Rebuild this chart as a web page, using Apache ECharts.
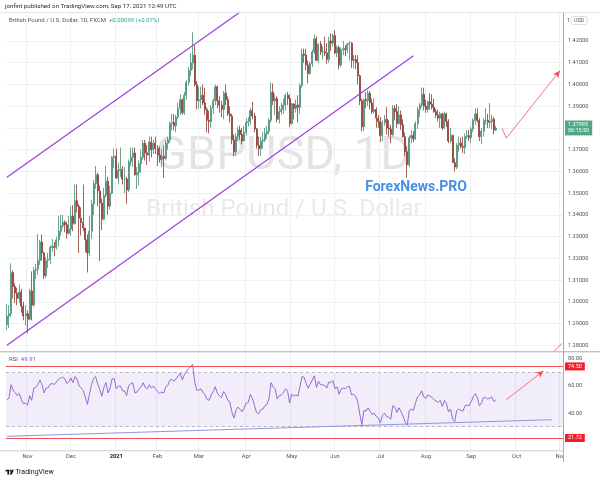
<!DOCTYPE html>
<html><head><meta charset="utf-8">
<script src="https://cdn.jsdelivr.net/npm/echarts/dist/echarts.min.js"></script>
<style>html,body{margin:0;padding:0;background:#fff}#c{width:600px;height:481px}</style>
</head><body><div id="c"></div>
<script>
// ---------- data (daily GBPUSD, FXCM) ----------
const firstDay = '2020-10-19';
const barCount = 270;              // trading days on the time axis (incl. future space)
const skipDays = ['2020-12-25', '2021-01-01'];

const opens = [1.2895,1.2935,1.2945,1.3135,1.3070,1.3040,1.3015,1.3045,1.2980,1.2935,
1.2945,1.2920,1.3050,1.2985,1.3145,1.3150,1.3190,1.3275,1.3225,1.3120,
1.3190,1.3195,1.3250,1.3255,1.3250,1.3285,1.3325,1.3350,1.3365,1.3355,
1.3315,1.3335,1.3395,1.3360,1.3465,1.3440,1.3385,1.3365,1.3340,1.3285,
1.3225,1.3325,1.3450,1.3545,1.3585,1.3510,1.3455,1.3380,1.3490,1.3555,
1.3440,1.3500,1.3665,1.3670,1.3570,1.3605,1.3610,1.3565,1.3565,1.3515,
1.3645,1.3665,1.3685,1.3585,1.3595,1.3635,1.3665,1.3730,1.3685,1.3675,
1.3735,1.3700,1.3730,1.3705,1.3675,1.3655,1.3670,1.3660,1.3730,1.3745,
1.3820,1.3825,1.3810,1.3850,1.3890,1.3930,1.3870,1.3950,1.4010,1.4065,
1.4100,1.4135,1.4000,1.3925,1.3930,1.3950,1.3915,1.3885,1.3835,1.3830,
1.3890,1.3925,1.3990,1.3925,1.3905,1.3885,1.3960,1.3930,1.3865,1.3855,
1.3745,1.3690,1.3760,1.3790,1.3770,1.3740,1.3780,1.3825,1.3830,1.3880,
1.3855,1.3795,1.3720,1.3705,1.3740,1.3745,1.3775,1.3785,1.3835,1.3965,
1.3925,1.3935,1.3840,1.3875,1.3885,1.3905,1.3950,1.3935,1.3820,1.3910,
1.3890,1.3905,1.3895,1.3995,1.4140,1.4135,1.4090,1.4050,1.4095,1.4150,
1.4210,1.4110,1.4185,1.4150,1.4150,1.4145,1.4115,1.4200,1.4190,1.4225,
1.4145,1.4170,1.4090,1.4160,1.4165,1.4160,1.4185,1.4190,1.4110,1.4115,
1.4100,1.4040,1.3925,1.3805,1.3930,1.3925,1.3960,1.3915,1.3875,1.3885,
1.3845,1.3830,1.3765,1.3825,1.3840,1.3800,1.3795,1.3770,1.3890,1.3875,
1.3820,1.3860,1.3815,1.3760,1.3690,1.3630,1.3755,1.3765,1.3750,1.3820,
1.3885,1.3905,1.3955,1.3900,1.3885,1.3920,1.3910,1.3895,1.3875,1.3860,
1.3845,1.3865,1.3800,1.3865,1.3830,1.3740,1.3765,1.3640,1.3620,1.3720,
1.3730,1.3715,1.3710,1.3760,1.3765,1.3755,1.3795,1.3835,1.3865,1.3835,
1.3760,1.3785,1.3835,1.3835,1.3825,1.3830,1.3840,1.3790];

const closes = [1.2935,1.2945,1.3135,1.3070,1.3040,1.3015,1.3045,1.2980,1.2935,1.2945,
1.2920,1.3050,1.2985,1.3145,1.3150,1.3190,1.3275,1.3225,1.3120,1.3190,
1.3195,1.3250,1.3255,1.3250,1.3285,1.3325,1.3350,1.3365,1.3355,1.3315,
1.3335,1.3395,1.3360,1.3465,1.3440,1.3385,1.3365,1.3340,1.3285,1.3225,
1.3325,1.3450,1.3545,1.3585,1.3510,1.3455,1.3380,1.3490,1.3555,1.3440,
1.3500,1.3665,1.3670,1.3570,1.3605,1.3610,1.3565,1.3565,1.3515,1.3645,
1.3665,1.3685,1.3585,1.3595,1.3635,1.3665,1.3730,1.3685,1.3675,1.3735,
1.3700,1.3730,1.3705,1.3675,1.3655,1.3670,1.3660,1.3730,1.3745,1.3820,
1.3825,1.3810,1.3850,1.3890,1.3930,1.3870,1.3950,1.4010,1.4065,1.4100,
1.4135,1.4000,1.3925,1.3930,1.3950,1.3915,1.3885,1.3835,1.3830,1.3890,
1.3925,1.3990,1.3925,1.3905,1.3885,1.3960,1.3930,1.3865,1.3855,1.3745,
1.3690,1.3760,1.3790,1.3770,1.3740,1.3780,1.3825,1.3830,1.3880,1.3855,
1.3795,1.3720,1.3705,1.3740,1.3745,1.3775,1.3785,1.3835,1.3965,1.3925,
1.3935,1.3840,1.3875,1.3885,1.3905,1.3950,1.3935,1.3820,1.3910,1.3890,
1.3905,1.3895,1.3995,1.4140,1.4135,1.4090,1.4050,1.4095,1.4150,1.4210,
1.4110,1.4185,1.4150,1.4150,1.4145,1.4115,1.4200,1.4190,1.4225,1.4145,
1.4170,1.4090,1.4160,1.4165,1.4160,1.4185,1.4190,1.4110,1.4115,1.4100,
1.4040,1.3925,1.3805,1.3930,1.3925,1.3960,1.3915,1.3875,1.3885,1.3845,
1.3830,1.3765,1.3825,1.3840,1.3800,1.3795,1.3770,1.3890,1.3875,1.3820,
1.3860,1.3815,1.3760,1.3690,1.3630,1.3755,1.3765,1.3750,1.3820,1.3885,
1.3905,1.3955,1.3900,1.3885,1.3920,1.3910,1.3895,1.3875,1.3860,1.3845,
1.3865,1.3800,1.3865,1.3830,1.3740,1.3765,1.3640,1.3620,1.3720,1.3730,
1.3715,1.3710,1.3760,1.3765,1.3755,1.3795,1.3835,1.3865,1.3835,1.3760,
1.3785,1.3835,1.3835,1.3825,1.3830,1.3840,1.3790,1.37995];

const lows = [1.2870,1.2880,1.2930,1.3015,1.2995,1.2985,1.2995,1.2950,1.2915,1.2890,
1.2855,1.2915,1.2915,1.2975,1.3105,1.3125,1.3170,1.3190,1.3105,1.3110,
1.3155,1.3175,1.3230,1.3210,1.3240,1.3255,1.3305,1.3340,1.3320,1.3290,
1.3310,1.3305,1.3325,1.3355,1.3410,1.3225,1.3305,1.3325,1.3230,1.3135,
1.3210,1.3290,1.3400,1.3520,1.3440,1.3188,1.3330,1.3375,1.3480,1.3400,
1.3425,1.3495,1.3615,1.3565,1.3540,1.3575,1.3540,1.3500,1.3450,1.3505,
1.3625,1.3620,1.3580,1.3520,1.3535,1.3595,1.3655,1.3650,1.3630,1.3645,
1.3665,1.3680,1.3680,1.3625,1.3640,1.3620,1.3570,1.3650,1.3700,1.3730,
1.3790,1.3790,1.3780,1.3840,1.3860,1.3860,1.3860,1.3930,1.3995,1.4040,
1.4070,1.3990,1.3885,1.3890,1.3890,1.3905,1.3860,1.3780,1.3775,1.3800,
1.3865,1.3905,1.3890,1.3870,1.3850,1.3840,1.3905,1.3855,1.3825,1.3725,
1.3670,1.3670,1.3740,1.3745,1.3725,1.3740,1.3765,1.3805,1.3815,1.3840,
1.3780,1.3705,1.3670,1.3670,1.3705,1.3735,1.3750,1.3770,1.3825,1.3905,
1.3860,1.3825,1.3820,1.3860,1.3865,1.3880,1.3905,1.3805,1.3815,1.3840,
1.3870,1.3825,1.3865,1.3985,1.4100,1.4065,1.4005,1.4045,1.4080,1.4140,
1.4110,1.4100,1.4135,1.4115,1.4130,1.4095,1.4100,1.4155,1.4175,1.4140,
1.4125,1.4070,1.4080,1.4135,1.4130,1.4145,1.4110,1.4075,1.4075,1.4070,
1.4000,1.3905,1.3785,1.3785,1.3890,1.3900,1.3885,1.3865,1.3865,1.3800,
1.3800,1.3735,1.3740,1.3810,1.3770,1.3760,1.3730,1.3760,1.3835,1.3800,
1.3815,1.3790,1.3755,1.3670,1.3572,1.3620,1.3730,1.3735,1.3745,1.3795,
1.3850,1.3895,1.3880,1.3870,1.3870,1.3885,1.3885,1.3870,1.3845,1.3830,
1.3800,1.3790,1.3795,1.3805,1.3730,1.3730,1.3640,1.3600,1.3610,1.3690,
1.3705,1.3685,1.3680,1.3750,1.3740,1.3730,1.3780,1.3815,1.3825,1.3740,
1.3725,1.3760,1.3815,1.3800,1.3800,1.3795,1.3770,1.3785];

const highs = [1.2990,1.2985,1.3177,1.3145,1.3085,1.3065,1.3080,1.3060,1.3000,1.2985,
1.2960,1.3060,1.3140,1.3160,1.3175,1.3313,1.3285,1.3310,1.3230,1.3205,
1.3225,1.3260,1.3290,1.3275,1.3300,1.3395,1.3400,1.3400,1.3375,1.3370,
1.3395,1.3440,1.3445,1.3540,1.3540,1.3450,1.3435,1.3540,1.3340,1.3310,
1.3395,1.3470,1.3560,1.3625,1.3595,1.3535,1.3475,1.3525,1.3625,1.3575,
1.3535,1.3670,1.3705,1.3705,1.3640,1.3710,1.3625,1.3620,1.3575,1.3655,
1.3710,1.3710,1.3710,1.3620,1.3650,1.3700,1.3745,1.3745,1.3720,1.3760,
1.3760,1.3745,1.3760,1.3720,1.3715,1.3705,1.3720,1.3745,1.3760,1.3830,
1.3865,1.3865,1.3860,1.3915,1.3955,1.3935,1.3965,1.4020,1.4080,1.4145,
1.4240,1.4180,1.4015,1.3990,1.3990,1.4000,1.3985,1.3895,1.3880,1.3905,
1.3935,1.4000,1.3995,1.3945,1.3925,1.3970,1.4000,1.3945,1.3900,1.3865,
1.3770,1.3775,1.3805,1.3810,1.3800,1.3810,1.3845,1.3850,1.3890,1.3920,
1.3870,1.3800,1.3760,1.3760,1.3780,1.3800,1.3810,1.3845,1.4010,1.4005,
1.3955,1.3945,1.3900,1.3915,1.3935,1.3960,1.3965,1.3955,1.3915,1.3915,
1.3930,1.3950,1.4005,1.4165,1.4165,1.4165,1.4110,1.4105,1.4160,1.4230,
1.4220,1.4190,1.4200,1.4175,1.4220,1.4190,1.4220,1.4235,1.4235,1.4250,
1.4180,1.4180,1.4170,1.4200,1.4180,1.4190,1.4200,1.4195,1.4135,1.4135,
1.4135,1.4045,1.3935,1.3935,1.3965,1.3975,1.3970,1.3935,1.3935,1.3895,
1.3860,1.3850,1.3835,1.3860,1.3895,1.3835,1.3815,1.3905,1.3905,1.3910,
1.3900,1.3880,1.3840,1.3780,1.3715,1.3765,1.3790,1.3785,1.3830,1.3895,
1.3915,1.3985,1.3985,1.3930,1.3925,1.3960,1.3955,1.3935,1.3890,1.3885,
1.3875,1.3870,1.3875,1.3870,1.3840,1.3800,1.3770,1.3660,1.3730,1.3760,
1.3755,1.3760,1.3775,1.3790,1.3790,1.3805,1.3845,1.3890,1.3890,1.3845,
1.3800,1.3845,1.3890,1.3865,1.3915,1.3860,1.3850,1.3810];

const rsi = [49.9,51,61,57,55,53,54.5,50,47,47.5,
46,53,49.5,58.5,59,61,64.5,61,55,58.5,
58.8,61.5,61.8,61.2,63,65,66,66.5,65.5,62,
63,66,62.5,67,65,60,58.5,56.5,52,46.5,
54,61,65.5,67,61.5,57.5,52.5,59,62.5,55,
58.5,65.5,65.5,58,60,60,56.5,56.5,53,60.5,
61.5,62.5,55,55.5,58,59.5,62.5,59,58,61,
58.5,60,58,56,54.5,55.5,55,59.5,60.5,64.5,
64.8,63.5,65.5,67.5,69.5,64.5,68.5,71,73,74.5,
76,63,57,57,58,55.5,53.5,50,49.5,53.5,
56,59.5,54.5,53,51.5,56,54,49.5,48.5,41,
36.5,42,44.5,43,41,44,47.5,48,54,51,
45.5,40.5,39.5,42.5,43,45.5,46.5,50.5,62.5,59.5,
58,50.5,53,53.5,55,58,56.5,47.5,54,52.5,
53.5,52.5,59.5,67,66.5,62,58.5,61.5,64.5,67.5,
59,63.5,61,61,60.5,58.5,63,62.5,64,58,
59.5,54,58,58.5,58,59.5,59.8,53.5,54,52.5,
48.5,39.5,31.5,42,41.5,44,41.5,39,40,37.5,
36.5,33,38.5,40,37.5,37,35.5,45.5,44.5,40.5,
44,41,37.5,33.5,31,42,43,42,47.5,52,
53.5,56.5,52,51,53.5,52.5,51.5,50,49,48,
49.5,45,49.5,47,41,43,35.5,34,42,43,
42,41.5,45.5,46,45.5,48.5,52,54.5,51.5,45.5,
47.5,51.5,51.5,50.5,51,52,48.5,49.91];

const priceTicks = [1.28,1.29,1.30,1.31,1.32,1.33,1.34,1.35,1.36,1.37,1.38,1.39,1.40,1.41,1.42];
const rsiTicks = [40, 60, 80];
const lastPrice = 1.37995;
const rsiLevels = {upper: 70, lower: 30, redHigh: 74.50, redLow: 21.72};

// drawings: [bar index, value]
const upperChannel = [[0, 1.3573], [113, 1.4333]];
const lowerChannel = [[0, 1.2800], [197, 1.4132]];
const priceArrow = [[240, 1.3798], [242, 1.3753], [268, 1.4063]];
const priceStub = [[265, 1.27706], [269, 1.2809]];
const rsiTrend = [[0, 22.97], [264, 35.2]];
const rsiArrow = [[242, 49.9], [260, 71.2]];

// ---------- calendar ----------
function buildDates() {
  const out = [];
  const d = new Date(firstDay + 'T00:00:00Z');
  while (out.length < barCount) {
    const wd = d.getUTCDay();
    const s = d.toISOString().slice(0, 10);
    if (wd !== 0 && wd !== 6 && skipDays.indexOf(s) < 0) out.push(s);
    d.setUTCDate(d.getUTCDate() + 1);
  }
  return out;
}
const dates = buildDates();
const monthNames = ['Jan','Feb','Mar','Apr','May','Jun','Jul','Aug','Sep','Oct','Nov','Dec'];
function isMonthStart(i) { return i > 0 && dates[i].slice(5, 7) !== dates[i - 1].slice(5, 7); }

const candleData = opens.map((o, i) => [o, closes[i], lows[i], highs[i]]);
const C = (p) => [dates[p[0]], p[1]];

const FONT = 'Roboto';
const gridLine = '#eef0f3';
const purple = '#9c3fe3';
const red = '#f0505a';

function seg(a, b, style, endArrow) {
  return [
    { coord: C(a), symbol: 'none', lineStyle: style, label: { show: false } },
    { coord: C(b), symbol: endArrow ? 'arrow' : 'none', symbolSize: [5, 7] }
  ];
}

const chart = echarts.init(document.getElementById('c'), null, { renderer: 'canvas', width: 600, height: 481 });

const xCommon = {
  type: 'category', data: dates, boundaryGap: true,
  axisTick: { show: false },
  splitLine: { show: true, interval: (i) => isMonthStart(i), lineStyle: { color: gridLine, width: 1 } }
};

const option = {
  animation: false,
  backgroundColor: '#ffffff',
  textStyle: { fontFamily: FONT },
  grid: [
    { left: 5.9, right: 37, top: 12, height: 339.7 },
    { left: 5.9, right: 37, top: 352, height: 98.5 }
  ],
  xAxis: [
    Object.assign({}, xCommon, { gridIndex: 0, axisLine: { show: false }, axisLabel: { show: false } }),
    Object.assign({}, xCommon, {
      gridIndex: 1,
      axisLine: { show: false },
      axisLabel: {
        show: true, interval: (i) => isMonthStart(i) && i < 268,
        hideOverlap: false,
        margin: 3, fontSize: 5.8, color: '#50535e', fontFamily: FONT,
        formatter: (v) => {
          const m = +v.slice(5, 7);
          return m === 1 ? '{y|' + v.slice(0, 4) + '}' : monthNames[m - 1];
        },
        rich: { y: { fontWeight: 'bold', color: '#131722', fontSize: 5.8, fontFamily: FONT } }
      }
    })
  ],
  yAxis: [
    {
      gridIndex: 0, type: 'value', position: 'right', min: 1.27706, max: 1.43334,
      axisLine: { show: false },
      axisTick: { show: false, customValues: priceTicks },
      axisLabel: { show: true, customValues: priceTicks, margin: 5, fontSize: 5.6, color: '#50535e', fontFamily: FONT,
        formatter: (v) => v.toFixed(5) },
      splitLine: { show: true, lineStyle: { color: gridLine, width: 1 } }
    },
    {
      gridIndex: 1, type: 'value', position: 'right', min: 12.48, max: 85.14,
      axisLine: { show: false },
      axisTick: { show: false, customValues: rsiTicks },
      axisLabel: { show: true, customValues: rsiTicks, margin: 5, fontSize: 5.6, color: '#50535e', fontFamily: FONT,
        formatter: (v) => v.toFixed(2) },
      splitLine: { show: false }
    }
  ],
  series: [
    {
      type: 'candlestick', xAxisIndex: 0, yAxisIndex: 0, data: candleData, barWidth: 1.5,
      itemStyle: { color: '#58a98a', color0: '#b04a40', borderColor: '#4a8f75', borderColor0: '#8a3b32', borderWidth: 0.8 },
      z: 3,
      markLine: {
        silent: true, animation: false, symbol: ['none', 'none'],
        data: [
          seg(upperChannel[0], upperChannel[1], { color: purple, width: 1.2, type: 'solid' }, false),
          seg(lowerChannel[0], lowerChannel[1], { color: purple, width: 1.2, type: 'solid' }, false),
          seg(priceArrow[0], priceArrow[1], { color: red, width: 0.8, type: 'solid' }, false),
          seg(priceArrow[1], priceArrow[2], { color: red, width: 0.8, type: 'solid' }, true),
          seg(priceStub[0], priceStub[1], { color: red, width: 0.8, type: 'solid' }, false)
        ]
      }
    },
    {
      // last price tag on the price scale
      type: 'line', xAxisIndex: 0, yAxisIndex: 0, data: [], symbol: 'none',
      markLine: {
        silent: true, animation: false, symbol: ['none', 'none'],
        data: [
          { yAxis: lastPrice, lineStyle: { color: 'rgba(79,168,131,0)', width: 0.5 },
            label: { show: true, position: 'end', distance: 2, formatter: '1.37995\n06:15:50',
              color: '#ffffff', backgroundColor: '#4fa883', padding: [1.5, 3, 1, 3], fontSize: 5.5, lineHeight: 6.2,
              fontFamily: FONT } }
        ]
      }
    },
    {
      type: 'line', xAxisIndex: 1, yAxisIndex: 1, data: rsi, showSymbol: false, symbol: 'none',
      lineStyle: { color: '#8a5cc9', width: 0.9 }, z: 3,
      markArea: { silent: true, itemStyle: { color: 'rgba(126,87,194,0.10)' },
        data: [[{ yAxis: rsiLevels.lower }, { yAxis: rsiLevels.upper }]] },
      markLine: {
        silent: true, animation: false, symbol: ['none', 'none'],
        data: [
          { yAxis: rsiLevels.upper, lineStyle: { color: '#a7a2bd', width: 0.8, type: [3, 3] }, label: { show: false } },
          { yAxis: rsiLevels.lower, lineStyle: { color: '#a7a2bd', width: 0.8, type: [3, 3] }, label: { show: false } },
          { yAxis: rsiLevels.redHigh, lineStyle: { color: red, width: 1, type: 'solid' },
            label: { show: true, position: 'end', distance: 2, formatter: '74.50', color: '#fff', backgroundColor: '#f21d2b',
              padding: [1.2, 3, 0.8, 3], fontSize: 5.5, fontFamily: FONT } },
          { yAxis: rsiLevels.redLow, lineStyle: { color: red, width: 1, type: 'solid' },
            label: { show: true, position: 'end', distance: 2, formatter: '21.72', color: '#fff', backgroundColor: '#f21d2b',
              padding: [1.2, 3, 0.8, 3], fontSize: 5.5, fontFamily: FONT } },
          seg(rsiTrend[0], rsiTrend[1], { color: '#8d97dc', width: 1, type: 'solid' }, false),
          seg(rsiArrow[0], rsiArrow[1], { color: red, width: 0.8, type: 'solid' }, true)
        ]
      }
    }
  ],
  graphic: [
    // watermark
    { type: 'text', z: 0, x: 283, y: 157, silent: true,
      style: { text: 'GBPUSD, 1D', fill: 'rgba(0,0,0,0.11)', font: '47px ' + FONT, textAlign: 'center', textVerticalAlign: 'middle' } },
    { type: 'text', z: 0, x: 284, y: 210, silent: true,
      style: { text: 'British Pound / U.S. Dollar', fill: 'rgba(0,0,0,0.09)', font: '24px ' + FONT, textAlign: 'center', textVerticalAlign: 'middle' } },
    { type: 'text', z: 10, x: 416, y: 187, silent: true,
      style: { text: 'ForexNews.PRO', fill: '#4a8fe4', font: 'bold 14px ' + FONT, textAlign: 'center', textVerticalAlign: 'middle' } },
    // header
    { type: 'text', z: 10, x: 5, y: 6.5,
      style: { text: 'jonfint published on TradingView.com, Sep 17, 2021 12:49 UTC', fill: '#2a2e39', font: '6.2px ' + FONT, textVerticalAlign: 'middle' } },
    { type: 'text', z: 10, x: 9, y: 20.5,
      style: { text: '{a|British Pound / U.S. Dollar, 1D, FXCM}  {b|+0.00099 (+0.07%)}', font: '6px ' + FONT, textVerticalAlign: 'middle',
        rich: { a: { fill: '#50535e', fontSize: 6, fontFamily: FONT }, b: { fill: '#26a69a', fontSize: 6, fontFamily: FONT } } } },
    { type: 'text', z: 10, x: 9, y: 359.5,
      style: { text: '{a|RSI}  {b|49.91}', font: '6px ' + FONT, textVerticalAlign: 'middle',
        rich: { a: { fill: '#50535e', fontSize: 6, fontFamily: FONT }, b: { fill: '#7e57c2', fontSize: 6, fontFamily: FONT } } } },
    // USD box
    { type: 'text', z: 10, x: 567, y: 20.5,
      style: { text: '1', fill: '#50535e', font: '5.6px ' + FONT, textVerticalAlign: 'middle' } },
    { type: 'rect', z: 10, shape: { x: 571, y: 16.5, width: 16, height: 8, r: 1.5 }, style: { fill: '#fff', stroke: '#c5c8d0', lineWidth: 0.6 } },
    { type: 'text', z: 11, x: 579, y: 20.7,
      style: { text: 'USD', fill: '#50535e', font: '5.4px ' + FONT, textAlign: 'center', textVerticalAlign: 'middle' } },
    // frame lines
    { type: 'line', z: 9, shape: { x1: 0, y1: 12.5, x2: 600, y2: 12.5 }, style: { stroke: '#e3e5ea', lineWidth: 1 } },
    { type: 'line', z: 9, shape: { x1: 0, y1: 351.8, x2: 600, y2: 351.8 }, style: { stroke: '#a9acb5', lineWidth: 1 } },
    { type: 'line', z: 9, shape: { x1: 0, y1: 450.8, x2: 563, y2: 450.8 }, style: { stroke: '#c9ccd3', lineWidth: 1 } },
    { type: 'line', z: 9, shape: { x1: 563.5, y1: 12.5, x2: 563.5, y2: 462 }, style: { stroke: '#a9acb5', lineWidth: 1 } },
    { type: 'text', z: 10, x: 555.5, y: 456.5,
      style: { text: 'No', fill: '#50535e', font: '5.8px ' + FONT, textVerticalAlign: 'middle' } },
    // TradingView logo
    { type: 'rect', z: 10, shape: { x: 5.5, y: 469.8, width: 3.6, height: 1.6 }, style: { fill: '#131722' } },
    { type: 'rect', z: 10, shape: { x: 7.4, y: 469.8, width: 1.7, height: 4.8 }, style: { fill: '#131722' } },
    { type: 'circle', z: 10, shape: { cx: 10.4, cy: 470.7, r: 0.9 }, style: { fill: '#131722' } },
    { type: 'polygon', z: 10, shape: { points: [[11.6, 469.8], [13.8, 469.8], [11.9, 474.6], [9.8, 474.6]] }, style: { fill: '#131722' } },
    { type: 'text', z: 10, x: 15.2, y: 472.4,
      style: { text: 'TradingView', fill: '#131722', font: '7px ' + FONT, textVerticalAlign: 'middle' } }
  ]
};
chart.setOption(option);
</script>
</body></html>
